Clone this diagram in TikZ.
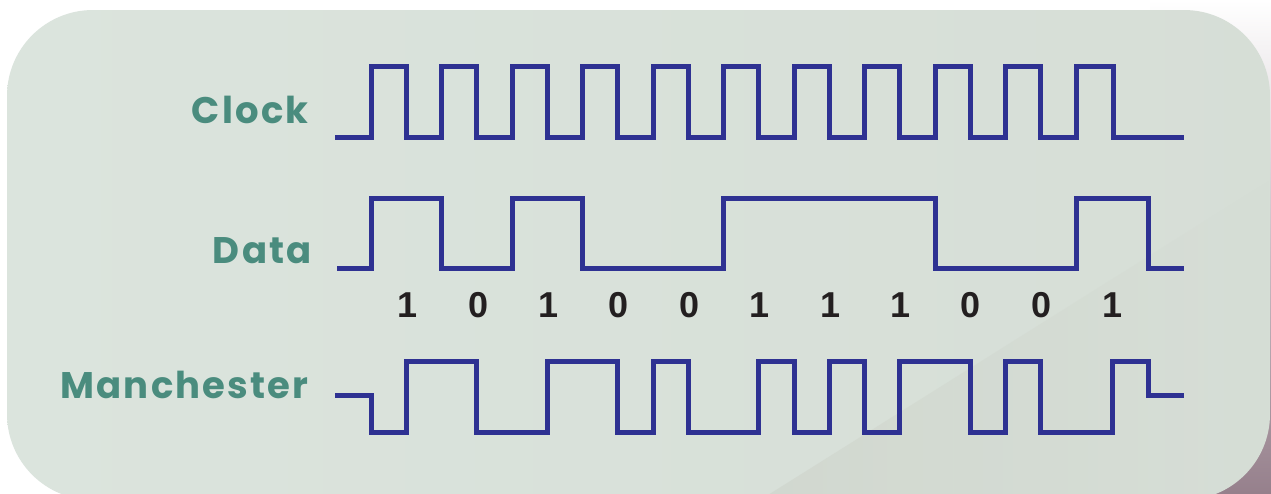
\documentclass[tikz,border=0pt]{standalone}
\usepackage{fontspec}
\setmainfont{Liberation Sans}
\newfontfamily\labelfont[LetterSpace=6]{Poppins}
\usetikzlibrary{fadings}
\definecolor{sigblue}{RGB}{46,49,146}
\definecolor{labteal}{RGB}{74,140,126}
\definecolor{digit}{RGB}{35,31,32}
\definecolor{bgmain}{RGB}{219,228,221}
\definecolor{bgdark}{RGB}{200,204,194}
\definecolor{mauve}{RGB}{150,128,140}
\tikzset{
  sig/.style={draw=sigblue, line width=5pt, line join=miter, line cap=butt},
  lab/.style={text=labteal, font=\labelfont\bfseries\fontsize{37}{40}\selectfont, anchor=base east, inner sep=0pt},
  bit/.style={text=digit, font=\bfseries\fontsize{36}{40}\selectfont, anchor=base, inner sep=0pt},
}
\begin{document}
\begin{tikzpicture}[x=1pt,y=-1pt]
\useasboundingbox (0,0) rectangle (1271,493);
\fill[white] (0,0) rectangle (1271,493);
\shade[top color=white, bottom color=mauve] (1150,0) rectangle (1271,493);
\begin{scope}
\clip[rounded corners=86pt] (7,10) rectangle (1270,500);
\shade[left color=bgmain, right color=bgmain!75!bgdark] (7,10) rectangle (1270,500);
\fill[bgdark, opacity=0.4, path fading=east] (760,500) -- (1270,180) -- (1270,500) -- cycle;
\end{scope}
% labels
\node[lab] (lclock) at (309,123) {Clock};
\node[lab] (ldata) at (312,263) {Data};
\node[lab] (lman) at (309,398) {Manchester};
% clock
\draw[sig] (335,137.5) foreach \r/\f in {371/406,441/476,512/547,582/617,653/688,723/758,794/829,864/899,935/970,1005/1040,1076/1113}
  { -- (\r,137.5) -- (\r,66) -- (\f,66) -- (\f,137.5) } -- (1184,137.5);
% data
\draw[sig] (337,268) -- (371,268) -- (371,198.5) -- (441,198.5) -- (441,268) -- (512,268) -- (512,198.5) -- (582,198.5) -- (582,268) -- (723,268) -- (723,198.5) -- (935,198.5) -- (935,268) -- (1076,268) -- (1076,198.5) -- (1148,198.5) -- (1148,268) -- (1184,268);
% bits
\foreach \x/\b [count=\i] in {408/1,479/0,549/1,619/0,690/0,760/1,830/1,900/1,970/0,1041/0,1112/1}
  \node[bit] (b\i) at (\x,317) {\b};
% manchester
\draw[sig] (335,395) -- (371,395) -- (371,432.5) -- (406,432.5) -- (406,361.5) -- (476,361.5) -- (476,432.5) -- (547,432.5) -- (547,361.5) -- (617,361.5) -- (617,432.5) -- (653,432.5) -- (653,361.5) -- (688,361.5) -- (688,432.5) -- (758,432.5) -- (758,361.5) -- (794,361.5) -- (794,432.5) -- (829,432.5) -- (829,361.5) -- (864,361.5) -- (864,432.5) -- (899,432.5) -- (899,361.5) -- (970,361.5) -- (970,432.5) -- (1005,432.5) -- (1005,361.5) -- (1040,361.5) -- (1040,432.5) -- (1112,432.5) -- (1112,361.5) -- (1148,361.5) -- (1148,395) -- (1184,395);
\end{tikzpicture}
\end{document}
